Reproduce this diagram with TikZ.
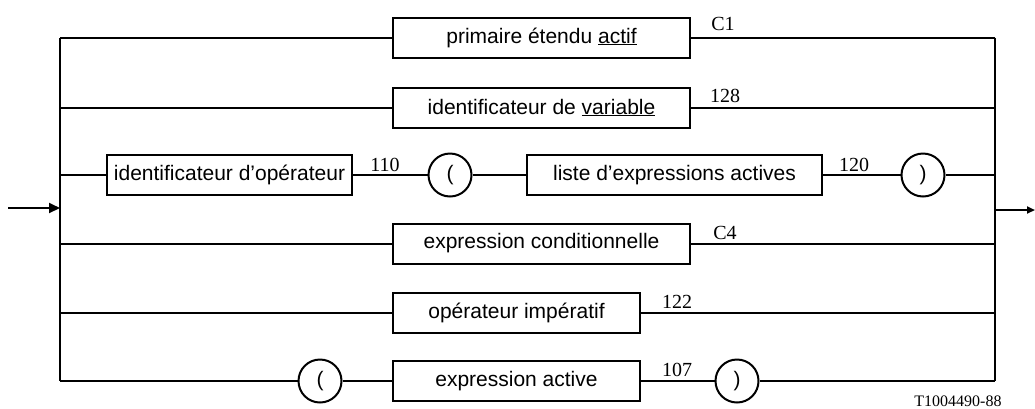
\documentclass[tikz,border=0pt]{standalone}
\usepackage{fontspec}
\setmainfont{Liberation Serif}
\newfontfamily\boxfont{Liberation Sans}
\usetikzlibrary{arrows.meta}
\tikzset{
  wire/.style={line width=2pt},
  termbox/.style={draw, line width=2pt, minimum height=40pt, inner sep=0pt, font=\boxfont\fontsize{21}{25}\selectfont},
  termcirc/.style={draw, circle, line width=2pt, minimum size=43pt, inner sep=0pt, font=\boxfont\fontsize{21}{25}\selectfont},
  reflabel/.style={font=\fontsize{20}{22}\selectfont, inner sep=0pt},
}
\begin{document}
\begin{tikzpicture}[x=1pt,y=-1pt]
\useasboundingbox (0,0) rectangle (1035,408);
% nodes
\node[termbox, minimum width=297pt] (b1) at (541.5,37.5) {primaire étendu \underline{actif}};
\node[termbox, minimum width=297pt] (b2) at (541.5,107.5) {identificateur de \underline{variable}};
\node[termbox, minimum width=245pt] (b3a) at (229.5,175) {identificateur d’opérateur};
\node[termcirc] (c3a) at (450,175) {(};
\node[termbox, minimum width=295pt] (b3b) at (674.5,175) {liste d’expressions actives};
\node[termcirc] (c3b) at (923,175) {)};
\node[termbox, minimum width=297pt] (b4) at (541.5,243.5) {expression conditionnelle};
\node[termbox, minimum width=247pt] (b5) at (516.5,312.5) {opérateur impératif};
\node[termcirc] (c6a) at (320,381) {(};
\node[termbox, minimum width=247pt] (b6) at (516.5,381) {expression active};
\node[termcirc] (c6b) at (737,381) {)};
% labels
\node[reflabel] (l1) at (723,24) {C1};
\node[reflabel] (l2) at (725,96) {128};
\node[reflabel] (l3) at (385,165) {110};
\node[reflabel] (l4) at (854,165) {120};
\node[reflabel] (l5) at (725,233) {C4};
\node[reflabel] (l6) at (677,302) {122};
\node[reflabel] (l7) at (677,370) {107};
\node[font=\fontsize{16}{18}\selectfont, inner sep=0pt] (tag) at (958,401) {T1004490-88};
% bus coordinates
\coordinate (L1) at (60,37.5);
\coordinate (L2) at (60,107.5);
\coordinate (L3) at (60,175);
\coordinate (L4) at (60,243.5);
\coordinate (L5) at (60,312.5);
\coordinate (L6) at (60,381);
\coordinate (R1) at (995,37.5);
\coordinate (R2) at (995,107.5);
\coordinate (R3) at (995,175);
\coordinate (R4) at (995,243.5);
\coordinate (R5) at (995,312.5);
\coordinate (R6) at (995,381);
\coordinate (in) at (8,208);
\coordinate (inB) at (60,208);
\coordinate (outB) at (995,210);
\coordinate (out) at (1035,210);
% buses
\draw[wire] (L1) -- (L6);
\draw[wire] (R1) -- (R6);
\draw[wire, -{Triangle[length=11pt,width=10pt]}] (in) -- (inB);
\draw[wire, -{Triangle[length=8pt,width=7pt]}] (outB) -- (out);
% rows
\draw[wire] (L1) -- (b1.west);
\draw[wire] (b1.east) -- (R1);
\draw[wire] (L2) -- (b2.west);
\draw[wire] (b2.east) -- (R2);
\draw[wire] (L3) -- (b3a.west);
\draw[wire] (b3a.east) -- (c3a.west);
\draw[wire] (c3a.east) -- (b3b.west);
\draw[wire] (b3b.east) -- (c3b.west);
\draw[wire] (c3b.east) -- (R3);
\draw[wire] (L4) -- (b4.west);
\draw[wire] (b4.east) -- (R4);
\draw[wire] (L5) -- (b5.west);
\draw[wire] (b5.east) -- (R5);
\draw[wire] (L6) -- (c6a.west);
\draw[wire] (c6a.east) -- (b6.west);
\draw[wire] (b6.east) -- (c6b.west);
\draw[wire] (c6b.east) -- (R6);
\end{tikzpicture}
\end{document}
